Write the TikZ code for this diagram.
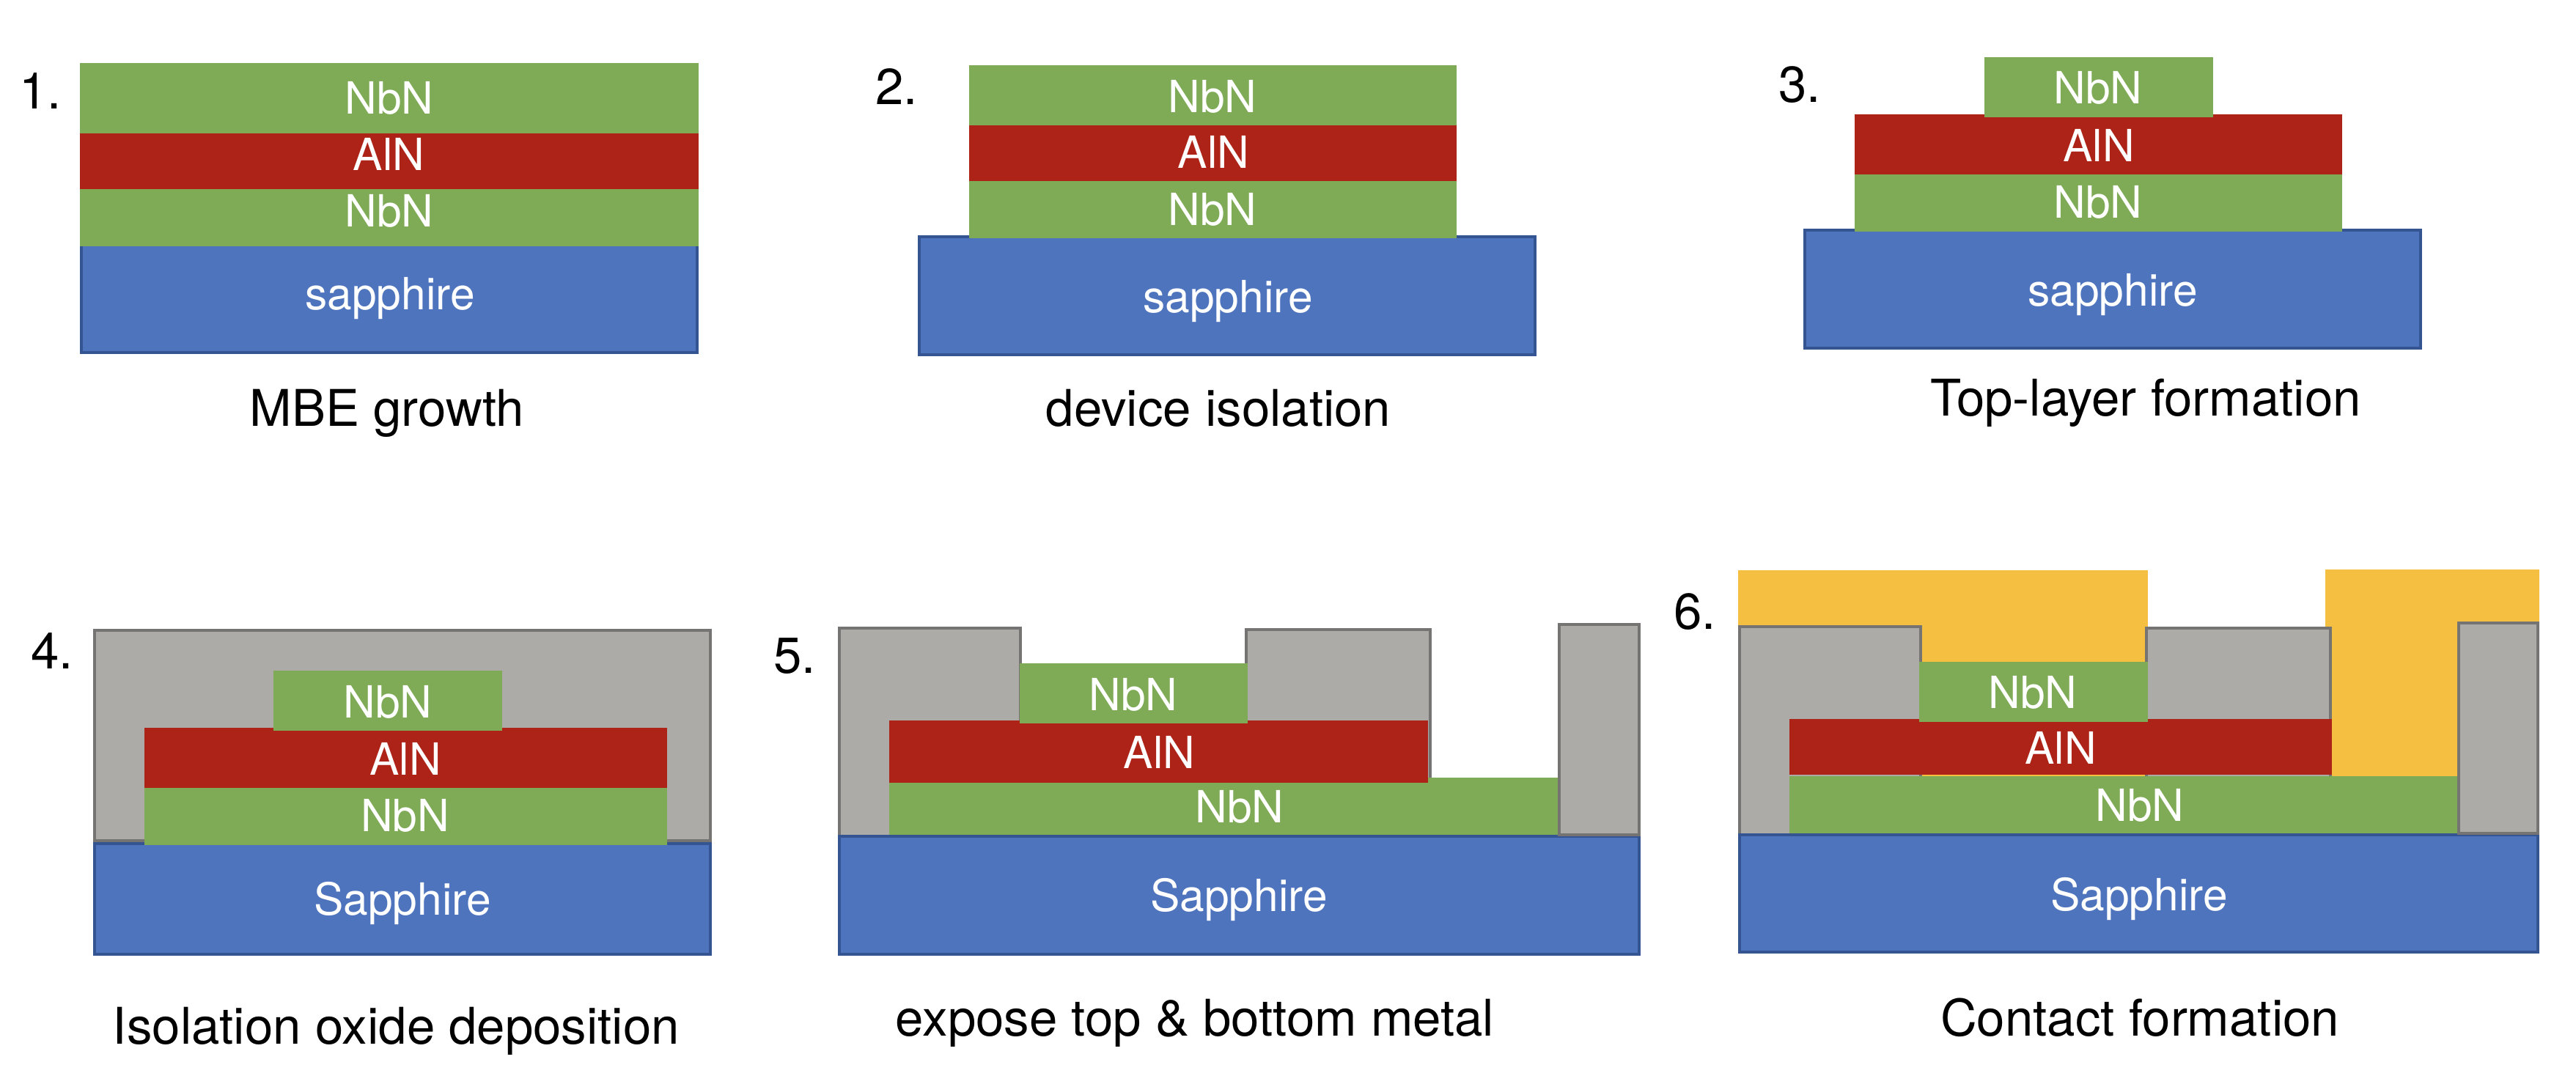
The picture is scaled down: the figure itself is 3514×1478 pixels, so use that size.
\documentclass[tikz,border=0pt]{standalone}
\usepackage{fontspec}
\setmainfont{TeX Gyre Heros}
\definecolor{nbncol}{HTML}{7FAB57}
\definecolor{alncol}{HTML}{AE2318}
\definecolor{subcol}{HTML}{4E74BE}
\definecolor{subline}{HTML}{355592}
\definecolor{oxcol}{HTML}{ADABA8}
\definecolor{oxline}{HTML}{767473}
\definecolor{goldcol}{HTML}{F5BF42}
\tikzset{
    nbn/.style={fill=nbncol},
    aln/.style={fill=alncol},
    sub/.style={fill=subcol, draw=subline, line width=.8pt},
    oxide/.style={fill=oxcol, draw=oxline, line width=.8pt},
    contact/.style={fill=goldcol},
    layertext/.style={anchor=base, inner sep=0pt, text=white, font=\fontsize{12.1}{14}\selectfont},
    captext/.style={anchor=base, inner sep=0pt, text=black, font=\fontsize{13.8}{16}\selectfont}
}

\begin{document}
\begin{tikzpicture}[x=.2pt, y=-.2pt]
    \useasboundingbox (0,0) rectangle (3514,1478);

    \path[sub] (111,334) rectangle (951,481);
    \path[nbn] (109,258) rectangle (953,336);
    \path[aln] (109,182) rectangle (953,258);
    \path[nbn] (109,86) rectangle (953,182);
    \node[layertext] (top1) at (531,155.5) {NbN};
    \node[layertext] (mid1) at (530.5,232) {AlN};
    \node[layertext] (bot1) at (531,310) {NbN};
    \node[layertext] (sub1) at (532,422.5) {sapphire};
    \node[captext] (cap1) at (528,581.5) {MBE growth};
    \node[captext] (num1) at (55,149) {1.};

    \path[sub] (1254,323) rectangle (2094,484);
    \path[nbn] (1322,247) rectangle (1987,325);
    \path[aln] (1322,171) rectangle (1987,247);
    \path[nbn] (1322,89) rectangle (1987,171);
    \node[layertext] (top2) at (1654,154) {NbN};
    \node[layertext] (mid2) at (1655.5,229.5) {AlN};
    \node[layertext] (bot2) at (1654,307.5) {NbN};
    \node[layertext] (sub2) at (1675,426) {sapphire};
    \node[captext] (cap2) at (1662,581.5) {device isolation};
    \node[captext] (num2) at (1223,143) {2.};

    \path[sub] (2462,314) rectangle (3302,475);
    \path[nbn] (2530,238) rectangle (3195,316);
    \path[aln] (2530,156) rectangle (3195,238);
    \path[nbn] (2707,78) rectangle (3019,160);
    \node[layertext] (top3) at (2862,141.5) {NbN};
    \node[layertext] (mid3) at (2863,220.5) {AlN};
    \node[layertext] (bot3) at (2862,297.5) {NbN};
    \node[layertext] (sub3) at (2882,417) {sapphire};
    \node[captext] (cap3) at (2927,567) {Top-layer formation};
    \node[captext] (num3) at (2455,139.5) {3.};

    \path[oxide] (129,860) rectangle (969,1147);
    \path[sub] (129,1151) rectangle (969,1302);
    \path[nbn] (197,1075) rectangle (910,1153);
    \path[aln] (197,993) rectangle (910,1075);
    \path[nbn] (373,915) rectangle (685,997);
    \node[layertext] (top4) at (529,979) {NbN};
    \node[layertext] (mid4) at (553,1057) {AlN};
    \node[layertext] (bot4) at (552.5,1134.5) {NbN};
    \node[layertext] (sub4) at (549,1248.5) {Sapphire};
    \node[captext] (cap4) at (540.5,1424.5) {Isolation oxide deposition};
    \node[captext] (num4) at (71,912) {4.};

    \path[oxide] (1145,857) rectangle (1392,1145);
    \path[oxide] (1700,859) rectangle (1951,1063);
    \path[sub] (1145,1141) rectangle (2236,1302);
    \path[oxide] (2127,852) rectangle (2236,1139);
    \path[nbn] (1213,1061) rectangle (2125,1139);
    \path[aln] (1213,983) rectangle (1948,1068);
    \path[nbn] (1391,905) rectangle (1702,987);
    \node[layertext] (top5) at (1546,969) {NbN};
    \node[layertext] (mid5) at (1581.5,1048) {AlN};
    \node[layertext] (bot5) at (1691,1122.5) {NbN};
    \node[layertext] (sub5) at (1690,1243.5) {Sapphire};
    \node[captext] (cap5) at (1630,1413.5) {expose top \& bottom metal};
    \node[captext] (num5) at (1084,918) {5.};

    \path[contact] (2371,778) rectangle (2930,1059);
    \path[contact] (3172,777) rectangle (3464,1059);
    \path[oxide] (2373,855) rectangle (2620,1145);
    \path[oxide] (2928,857) rectangle (3179,1061);
    \path[sub] (2373,1139) rectangle (3462,1299);
    \path[oxide] (3354,850) rectangle (3462,1136.5);
    \path[nbn] (2441,1059) rectangle (3352,1137);
    \path[aln] (2441,981) rectangle (3181,1057);
    \path[nbn] (2618,903) rectangle (2930,985);
    \node[layertext] (top6) at (2773,966.5) {NbN};
    \node[layertext] (mid6) at (2811,1042) {AlN};
    \node[layertext] (bot6) at (2919,1120) {NbN};
    \node[layertext] (sub6) at (2918,1242) {Sapphire};
    \node[captext] (cap6) at (2919,1413.5) {Contact formation};
    \node[captext] (num6) at (2312,858) {6.};
\end{tikzpicture}
\end{document}
